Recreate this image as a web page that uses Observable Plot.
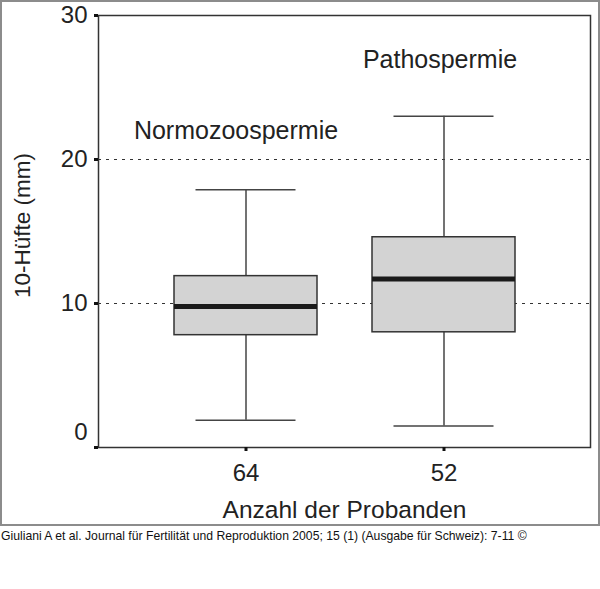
<!DOCTYPE html>
<html>
<head>
<meta charset="utf-8">
<script src="https://cdn.jsdelivr.net/npm/d3@7"></script>
<script src="https://cdn.jsdelivr.net/npm/@observablehq/plot@0.6"></script>
<style>
  body { margin: 0; background: #fff; font-family: "Liberation Sans", Arial, sans-serif; }
  #wrap { width: 600px; height: 526px; box-sizing: border-box; border: 2px solid #8c8c8c; background: #fff; }
  #caption { font-family: "Liberation Sans", Arial, sans-serif; font-size: 12.2px; color: #111; margin: 3px 0 0 1px; white-space: nowrap; }
</style>
</head>
<body>
<div id="wrap"></div>
<div id="caption">Giuliani A et al. Journal für Fertilität und Reproduktion 2005; 15 (1) (Ausgabe für Schweiz): 7-11 ©</div>
<script>
// Data
const categories = ["64", "52"];
const groups = ["Normozoospermie", "Pathospermie"];
const whiskerLow = [1.9, 1.5];
const q1 = [7.8, 8.0];
const median = [9.8, 11.7];
const q3 = [11.9, 14.6];
const whiskerHigh = [17.9, 23.0];
const labelY = [22.0, 26.9];
const yTicks = [0, 10, 20, 30];
const gridLines = [10, 20];
const xTitle = "Anzahl der Probanden";
const yTitle = "10-Hüfte (mm)";

const rows = categories.map((c, i) => ({
  n: c, group: groups[i], lo: whiskerLow[i], q1: q1[i], med: median[i], q3: q3[i], hi: whiskerHigh[i], ly: labelY[i]
}));

const ink = "#333";
const chart = Plot.plot({
  width: 596,
  height: 522,
  marginLeft: 96,
  marginRight: 8,
  marginTop: 13,
  marginBottom: 77,
  style: { fontFamily: "Liberation Sans, Arial, sans-serif", fontSize: "21px", color: "#222", background: "#fff", overflow: "visible" },
  x: { type: "band", domain: categories, paddingInner: 0.28, paddingOuter: 0.38 },
  y: { domain: [0, 30] },
  marks: [
    Plot.ruleY(gridLines, { stroke: ink, strokeWidth: 1, strokeDasharray: "3,5" }),
    Plot.ruleX(rows, { x: "n", y1: "lo", y2: "hi", stroke: "#444", strokeWidth: 1.5 }),
    Plot.tickY(rows, { x: "n", y: "lo", stroke: "#444", strokeWidth: 1.5, inset: 21.5 }),
    Plot.tickY(rows, { x: "n", y: "hi", stroke: "#444", strokeWidth: 1.5, inset: 21.5 }),
    Plot.barY(rows, { x: "n", y1: "q1", y2: "q3", fill: "#d3d3d3", stroke: ink, strokeWidth: 1.5 }),
    Plot.tickY(rows, { x: "n", y: "med", stroke: "#1a1a1a", strokeWidth: 5 }),
    Plot.text(rows.slice(0, 1), { x: "n", y: "ly", text: "group", fontSize: 25, fill: "#222", dx: -10 }),
    Plot.text(rows.slice(1, 2), { x: "n", y: "ly", text: "group", fontSize: 25, fill: "#222", dx: -4 }),
    Plot.frame({ stroke: ink, strokeWidth: 1.5 }),
    Plot.axisY({ ticks: yTicks, tickSize: 4, tickPadding: 7, strokeWidth: 3, stroke: "#111", fontSize: 24, tickFormat: d => d === 0 ? "" : String(d), label: null }),
    Plot.text([0], { y: d => d, frameAnchor: "left", dx: -11, dy: -15, textAnchor: "end", lineAnchor: "middle", text: d => String(d), fontSize: 24, fill: "#222" }),
    Plot.axisX({ tickSize: 4, tickPadding: 12, strokeWidth: 3, stroke: "#111", fontSize: 24, label: null }),
    Plot.text([xTitle], { frameAnchor: "bottom", dy: 63, textAnchor: "middle", lineAnchor: "middle", text: d => d, fontSize: 24.5, fill: "#222" }),
    Plot.text([yTitle], { frameAnchor: "left", dx: -76, dy: -6, rotate: -90, textAnchor: "middle", lineAnchor: "middle", text: d => d, fontSize: 22.5, fill: "#222" })
  ]
});
document.getElementById("wrap").appendChild(chart);
</script>
</body>
</html>
